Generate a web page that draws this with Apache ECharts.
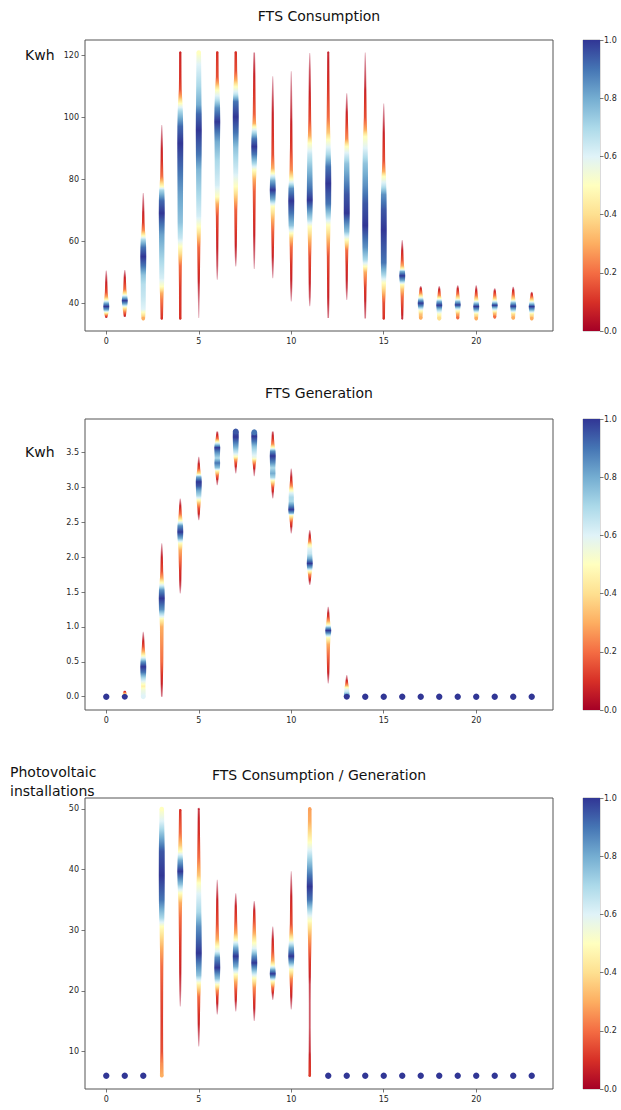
<!DOCTYPE html>
<html><head><meta charset="utf-8">
<script src="https://cdn.jsdelivr.net/npm/echarts@6/dist/echarts.min.js"></script>
<style>html,body{margin:0;padding:0;background:#fff}#c{width:621px;height:1110px}</style>
</head><body><div id="c"></div>
<script>
// ---------------- DATA ----------------
const hours = [0,1,2,3,4,5,6,7,8,9,10,11,12,13,14,15,16,17,18,19,20,21,22,23];
const xTicks = [0,5,10,15,20];
const consumptionTicks = [40,60,80,100,120];
const generationTicks = [0,0.5,1,1.5,2,2.5,3,3.5];
const ratioTicks = [10,20,30,40,50];
const colorbarTicks = [0,0.2,0.4,0.6,0.8,1];
const titles = ['FTS Consumption','FTS Generation','FTS Consumption / Generation'];
const unitLabels = ['Kwh','Kwh','Photovoltaic\ninstallations'];

// per hour: [value, normalised density] pairs
const consumptionKnots = [
 [[35.2,0.02],[36.0,0.2],[36.8,0.45],[37.8,0.8],[38.9,1],[40.0,0.8],[41.0,0.5],[42.0,0.3],[43.5,0.15],[46,0.08],[48.5,0.04],[50.5,0]],
 [[35.5,0.03],[37.0,0.2],[38.5,0.45],[39.7,0.8],[40.8,1],[41.9,0.75],[43.0,0.45],[44.5,0.2],[47,0.1],[49,0.05],[50.7,0]],
 [[35.0,0.3],[36.5,0.45],[38,0.6],[42,0.65],[46,0.68],[49,0.75],[52,0.9],[55,1.0],[58,0.9],[60.5,0.7],[62,0.45],[63.5,0.25],[66,0.12],[70,0.06],[73,0.03],[75.5,0]],
 [[35,0.1],[38,0.15],[41,0.22],[43.2,0.3],[45.3,0.5],[48,0.62],[55,0.72],[62,0.82],[66,0.92],[69,1],[73,0.92],[76.5,0.7],[77.6,0.5],[79.7,0.3],[81,0.2],[86,0.1],[92,0.05],[97.5,0]],
 [[35,0.1],[45,0.12],[52,0.2],[56,0.4],[58.2,0.5],[61,0.65],[66,0.75],[75,0.82],[84,0.92],[91.6,1],[97,0.92],[102,0.7],[104.4,0.5],[106.5,0.3],[109,0.15],[113,0.1],[120.9,0.08]],
 [[35.2,0],[40,0.02],[46,0.06],[52,0.12],[58,0.2],[61.5,0.35],[64.7,0.5],[68,0.62],[75,0.7],[83,0.78],[88,0.9],[95.8,1],[101,0.92],[104,0.8],[110,0.7],[117,0.6],[120.9,0.5]],
 [[47.5,0],[52,0.04],[60,0.08],[68,0.15],[72,0.3],[74.3,0.5],[78,0.62],[86,0.7],[92,0.8],[98.5,1],[103,0.85],[106,0.65],[108.7,0.5],[110.8,0.3],[113,0.15],[120.9,0.1]],
 [[51.8,0],[55,0.04],[62,0.1],[70,0.18],[73,0.3],[77.6,0.5],[82,0.62],[90,0.75],[95,0.9],[100.1,1],[105,0.9],[107.5,0.65],[109.8,0.5],[112,0.3],[115,0.15],[120.9,0.1]],
 [[51,0],[55,0.03],[62,0.07],[70,0.12],[76,0.18],[80,0.3],[82.9,0.5],[85,0.7],[88,0.9],[90.5,1],[93,0.9],[95.5,0.65],[96.8,0.5],[98,0.3],[101,0.18],[106,0.12],[112,0.08],[117,0.05],[120.9,0.02]],
 [[48,0],[52,0.04],[58,0.1],[63,0.18],[67,0.3],[71.2,0.5],[73.5,0.8],[76.5,1],[79.5,0.8],[81.9,0.5],[83.5,0.3],[88,0.15],[95,0.1],[105,0.05],[113.2,0]],
 [[40.5,0],[45,0.05],[52,0.1],[58,0.2],[61,0.35],[62.5,0.5],[65,0.75],[69,0.9],[73,1],[77,0.85],[79,0.6],[81,0.4],[83,0.25],[90,0.12],[100,0.06],[108,0.03],[114.8,0]],
 [[39,0],[42,0.04],[48,0.08],[55,0.15],[60,0.3],[64.7,0.5],[67,0.7],[71,0.9],[73.2,1],[77,0.9],[84,0.75],[88,0.65],[91.6,0.5],[94,0.3],[99,0.15],[108,0.07],[115,0.04],[120.7,0]],
 [[35.2,0.02],[40,0.06],[48,0.1],[55,0.15],[60,0.3],[65.2,0.5],[68,0.7],[72,0.9],[78.6,1],[84,0.9],[88,0.7],[92.7,0.5],[95,0.35],[100,0.2],[108,0.12],[115,0.08],[120.9,0.06]],
 [[41,0],[45,0.05],[52,0.1],[57,0.2],[60.4,0.5],[63,0.75],[69,1],[75,0.95],[80,0.85],[85,0.75],[88.5,0.6],[90.5,0.5],[93,0.25],[98,0.12],[103,0.05],[107.7,0]],
 [[35,0.02],[40,0.06],[45,0.12],[50,0.3],[51.8,0.5],[54,0.7],[58,0.85],[65,1],[72,0.95],[78,0.85],[85,0.75],[90,0.6],[93.7,0.5],[96,0.3],[100,0.15],[110,0.06],[120.9,0]],
 [[35,0.1],[40,0.15],[43,0.3],[46.5,0.5],[49,0.7],[53,0.9],[63.6,1],[70,0.95],[75,0.85],[78,0.65],[80.8,0.5],[82.5,0.3],[86,0.15],[95,0.07],[104.4,0]],
 [[35,0.05],[38,0.1],[42,0.2],[44.5,0.35],[46,0.5],[47.3,0.8],[48.8,1],[50.2,0.8],[51,0.5],[52,0.3],[54,0.15],[57,0.07],[60.4,0]],
 [[35.2,0.3],[36.5,0.35],[37.8,0.55],[39,0.85],[40,1],[41,0.8],[42,0.5],[43.2,0.25],[44.5,0.1],[45.5,0]],
 [[35,0.4],[36.5,0.5],[38,0.75],[39.3,1],[40.5,0.8],[41.5,0.5],[42.5,0.25],[44,0.1],[45.5,0]],
 [[35.2,0.2],[36.5,0.3],[38,0.6],[39.4,1],[40.6,0.75],[41.5,0.45],[43,0.2],[44.5,0.08],[45.8,0]],
 [[35,0.3],[36.5,0.45],[37.8,0.8],[38.9,1],[40,0.75],[41,0.45],[42.5,0.2],[44,0.08],[45.8,0]],
 [[35.5,0.2],[36.8,0.35],[38.2,0.7],[39.3,1],[40.3,0.7],[41.3,0.4],[42.5,0.2],[43.8,0.08],[44.8,0]],
 [[35.2,0.3],[36.5,0.4],[37.8,0.75],[39,1],[40.2,0.75],[41.3,0.4],[42.8,0.18],[44.2,0.07],[45.3,0]],
 [[35,0.3],[36.5,0.45],[37.8,0.8],[38.9,1],[40,0.7],[41,0.4],[42.3,0.15],[43.7,0]]
];

const generationKnots = [
 [[0,1]],
 [[0,1],[0.02,0.6],[0.04,0.4],[0.06,0.2],[0.09,0]],
 [[0,0.6],[0.05,0.58],[0.1,0.55],[0.15,0.45],[0.2,0.55],[0.27,0.7],[0.35,0.9],[0.43,1],[0.5,0.85],[0.56,0.6],[0.6,0.45],[0.65,0.3],[0.72,0.15],[0.8,0.07],[0.93,0]],
 [[0,0.02],[0.15,0.06],[0.3,0.1],[0.5,0.2],[0.75,0.25],[1.0,0.3],[1.1,0.45],[1.15,0.6],[1.25,0.85],[1.41,1],[1.53,0.85],[1.6,0.6],[1.65,0.45],[1.7,0.3],[1.8,0.15],[2.0,0.07],[2.2,0]],
 [[1.48,0],[1.6,0.05],[1.8,0.1],[1.95,0.2],[2.1,0.3],[2.2,0.5],[2.27,0.8],[2.36,1],[2.45,0.85],[2.5,0.6],[2.55,0.4],[2.62,0.2],[2.72,0.08],[2.84,0]],
 [[2.53,0],[2.6,0.05],[2.7,0.15],[2.78,0.35],[2.82,0.5],[2.88,0.7],[2.95,0.8],[3.02,0.95],[3.08,1],[3.15,0.8],[3.2,0.4],[3.27,0.15],[3.36,0.05],[3.44,0]],
 [[3.03,0],[3.1,0.05],[3.17,0.2],[3.23,0.45],[3.28,0.75],[3.35,0.9],[3.42,0.7],[3.5,0.85],[3.57,1],[3.62,0.7],[3.66,0.45],[3.7,0.2],[3.75,0.08],[3.8,0.03]],
 [[3.2,0],[3.28,0.05],[3.35,0.15],[3.4,0.3],[3.44,0.5],[3.5,0.65],[3.58,0.8],[3.65,0.9],[3.72,1],[3.8,0.95]],
 [[3.16,0],[3.25,0.05],[3.32,0.15],[3.38,0.35],[3.42,0.55],[3.5,0.65],[3.58,0.75],[3.66,0.9],[3.73,1],[3.79,0.9]],
 [[2.84,0],[2.92,0.05],[3.0,0.15],[3.06,0.35],[3.1,0.5],[3.14,0.7],[3.2,0.8],[3.28,0.7],[3.35,0.85],[3.45,1],[3.52,0.85],[3.57,0.5],[3.62,0.25],[3.7,0.1],[3.8,0.03]],
 [[2.34,0],[2.42,0.05],[2.5,0.15],[2.56,0.35],[2.6,0.5],[2.63,0.8],[2.68,1],[2.74,0.85],[2.8,0.7],[2.86,0.7],[2.92,0.6],[2.97,0.45],[3.02,0.25],[3.1,0.1],[3.18,0.05],[3.27,0]],
 [[1.6,0],[1.68,0.08],[1.75,0.25],[1.8,0.5],[1.85,0.8],[1.91,1],[1.98,0.8],[2.05,0.65],[2.12,0.6],[2.18,0.45],[2.22,0.25],[2.28,0.1],[2.39,0]],
 [[0.19,0],[0.3,0.05],[0.45,0.12],[0.6,0.2],[0.75,0.3],[0.85,0.5],[0.91,0.85],[0.95,1],[0.99,0.8],[1.03,0.5],[1.08,0.3],[1.15,0.12],[1.22,0.05],[1.29,0]],
 [[0,1],[0.03,0.85],[0.07,0.65],[0.1,0.6],[0.13,0.5],[0.16,0.3],[0.2,0.15],[0.25,0.05],[0.31,0]],
 [[0,1]],[[0,1]],[[0,1]],[[0,1]],[[0,1]],[[0,1]],[[0,1]],[[0,1]],[[0,1]],[[0,1]]
];

const ratioKnots = [
 [[6,1]],[[6,1]],[[6,1]],
 [[6,0.3],[8,0.25],[10,0.15],[15,0.12],[20,0.15],[24,0.2],[27,0.3],[29,0.4],[30.6,0.5],[32,0.7],[35,0.9],[39,1],[43,0.95],[46,0.75],[48,0.6],[50,0.5]],
 [[17.4,0],[20,0.04],[24,0.08],[28,0.12],[32,0.2],[34.5,0.3],[36.1,0.5],[37.5,0.75],[39.7,1],[41.5,0.8],[42.5,0.6],[43,0.5],[44,0.35],[46,0.2],[49.8,0.1]],
 [[10.8,0],[13,0.04],[16,0.1],[19,0.2],[21,0.45],[22.5,0.75],[26.2,1],[30.6,0.85],[33,0.7],[36,0.6],[37.8,0.5],[39,0.35],[42,0.2],[46,0.1],[50,0.05]],
 [[16.1,0],[17.5,0.05],[19,0.12],[20,0.25],[21,0.5],[22,0.75],[23.8,1],[25.5,0.85],[26.5,0.6],[27.3,0.5],[28.5,0.3],[31,0.15],[35,0.07],[38.3,0]],
 [[16.6,0],[18,0.05],[20,0.15],[21.5,0.3],[22.7,0.5],[24,0.8],[25.7,1],[27.1,0.8],[28,0.6],[28.4,0.5],[29.5,0.3],[31.5,0.15],[34,0.07],[36.1,0]],
 [[15,0],[16.5,0.05],[18.5,0.12],[20.5,0.25],[22.1,0.5],[23.5,0.8],[24.6,1],[25.7,0.85],[27,0.6],[27.9,0.5],[29.5,0.3],[31.5,0.15],[33.5,0.06],[34.8,0]],
 [[18.5,0],[19.5,0.06],[20.5,0.2],[21.6,0.5],[22.2,0.8],[22.8,1],[23.5,0.8],[24.2,0.5],[25,0.3],[26.5,0.15],[28.5,0.07],[30.6,0]],
 [[16.9,0],[18.5,0.05],[20.5,0.12],[22,0.25],[23.5,0.5],[24.6,0.8],[25.7,1],[27.1,0.8],[28.4,0.5],[29.5,0.3],[31,0.15],[35,0.08],[39.7,0]],
 [[6,0.12],[8,0.1],[10,0.06],[14,0.04],[18,0.04],[21,0.05],[23,0.08],[25,0.12],[27,0.2],[29,0.3],[31,0.45],[32,0.55],[35,0.9],[37.2,1],[39,0.9],[42,0.7],[44.5,0.5],[46,0.4],[48,0.3],[50,0.28]],
 [[6,1]],[[6,1]],[[6,1]],[[6,1]],[[6,1]],[[6,1]],[[6,1]],[[6,1]],[[6,1]],[[6,1]],[[6,1]],[[6,1]]
];

// ---------------- RENDERING ----------------
const FONT = 'DejaVu Sans';
const RdYlBu = ['#a50026','#d73027','#f46d43','#fdae61','#fee090','#ffffbf','#e0f3f8','#abd9e9','#74add1','#4575b4','#313695'];
const RGB = RdYlBu.map(c => [parseInt(c.slice(1,3),16),parseInt(c.slice(3,5),16),parseInt(c.slice(5,7),16)]);
function cmap(d, a){
  d = Math.max(0, Math.min(1, d));
  const t = d*10, i = Math.min(9, Math.floor(t)), f = t - i;
  const c0 = RGB[i], c1 = RGB[i+1];
  const r = c0.map((v,k) => Math.round(v + (c1[k]-v)*f));
  return 'rgba(' + r[0] + ',' + r[1] + ',' + r[2] + ',' + (a == null ? 1 : a) + ')';
}
const DOT_R = 3.2, SUB = 8;
const widthOf = d => 0.8 + 5.2 * Math.sqrt(Math.max(0, d));
const alphaOf = d => Math.min(1, 0.3 + d*10);

function makeRender(knotsList){
  return function(params, api){
    const ks = knotsList[params.dataIndex];
    const h = api.value(0);
    if (ks.length === 1){
      const p = api.coord([h, ks[0][0]]);
      return {type:'circle', shape:{cx:p[0], cy:p[1], r:DOT_R}, style:{fill:cmap(ks[0][1])}};
    }
    const samples = [];
    for (let i = 0; i < ks.length-1; i++){
      for (let j = 0; j < SUB; j++){
        const f = j/SUB;
        samples.push([ks[i][0] + (ks[i+1][0]-ks[i][0])*f, ks[i][1] + (ks[i+1][1]-ks[i][1])*f]);
      }
    }
    samples.push(ks[ks.length-1]);
    const pts = samples.map(s => { const p = api.coord([h, s[0]]); return [p[0], p[1], s[1]]; });
    const yB = pts[0][1], yT = pts[pts.length-1][1];
    const left = [], right = [], stops = [];
    pts.forEach(p => {
      const w = widthOf(p[2]);
      left.push([p[0]-w/2, p[1]]);
      right.push([p[0]+w/2, p[1]]);
      stops.push({offset: Math.max(0, Math.min(1, (yB-p[1])/(yB-yT))), color: cmap(p[2], alphaOf(p[2]))});
    });
    const poly = left.concat(right.reverse());
    const grad = {type:'linear', x:0, y:yB, x2:0, y2:yT, global:true, colorStops:stops};
    const children = [{type:'polygon', shape:{points:poly}, style:{fill:grad}}];
    [pts[0], pts[pts.length-1]].forEach(p => {
      const w = widthOf(p[2]);
      if (w > 1.8) children.push({type:'circle', shape:{cx:p[0], cy:p[1], r:w/2}, style:{fill:cmap(p[2], alphaOf(p[2]))}});
    });
    return {type:'group', children};
  };
}

function colorbarRender(params, api){
  const p0 = api.coord([0, 0]), p1 = api.coord([1, 1]);
  const stops = RdYlBu.map((c,i) => ({offset: 1 - i/10, color: c})).reverse();
  return {type:'rect', shape:{x:p0[0], y:p1[1], width:p1[0]-p0[0], height:p0[1]-p1[1]},
    style:{fill:{type:'linear', x:0, y:0, x2:0, y2:1, colorStops: stops}}};
}

const panels = [
  {knots: consumptionKnots, ticks: consumptionTicks, min: 31.0, max: 124.9, top: 40, fmt: v => String(v)},
  {knots: generationKnots, ticks: generationTicks, min: -0.19, max: 3.98, top: 419, fmt: v => v.toFixed(1)},
  {knots: ratioKnots, ticks: ratioTicks, min: 3.8, max: 51.8, top: 798, fmt: v => String(v)}
];
const H = 291;
const AX = '#555', LBL = '#262626';

const grid = [], xAxis = [], yAxis = [], series = [];
panels.forEach((pn, i) => {
  grid.push({left:85, width:468, top:pn.top, height:H, show:true, borderColor:AX, borderWidth:1, containLabel:false});
  grid.push({left:583, width:17, top:pn.top, height:H, show:true, borderColor:'#888', borderWidth:0.6, containLabel:false});
  xAxis.push({type:'value', gridIndex:2*i, min:-1.15, max:24.15, position:'bottom',
    axisLine:{show:false, onZero:false}, splitLine:{show:false},
    axisTick:{show:true, customValues:xTicks, length:3.5, lineStyle:{color:AX, width:0.8}},
    axisLabel:{customValues:xTicks, fontSize:8, color:LBL, margin:6, fontFamily:FONT}});
  yAxis.push({type:'value', gridIndex:2*i, min:pn.min, max:pn.max, position:'left',
    axisLine:{show:false, onZero:false}, splitLine:{show:false},
    axisTick:{show:true, customValues:pn.ticks, length:3.5, lineStyle:{color:AX, width:0.8}},
    axisLabel:{customValues:pn.ticks, fontSize:8, color:LBL, margin:6, fontFamily:FONT, formatter:pn.fmt}});
  xAxis.push({type:'value', gridIndex:2*i+1, min:0, max:1, show:false, axisLine:{onZero:false}});
  yAxis.push({type:'value', gridIndex:2*i+1, min:0, max:1, interval:0.2, position:'right',
    axisLine:{show:false, onZero:false}, splitLine:{show:false},
    axisTick:{show:true, length:3.5, lineStyle:{color:AX, width:0.8}},
    axisLabel:{fontSize:8, color:LBL, margin:4, fontFamily:FONT, formatter: v => v.toFixed(1)}});
  series.push({type:'custom', xAxisIndex:2*i, yAxisIndex:2*i, renderItem: makeRender(pn.knots),
    data: hours.map(h => [h]), clip:true, silent:true, animation:false});
  series.push({type:'custom', xAxisIndex:2*i+1, yAxisIndex:2*i+1, renderItem: colorbarRender,
    data: [[0]], silent:true, animation:false, z:1});
});

const txt = (text, x, y, size, align) => ({type:'text', x, y, silent:true,
  style:{text, fontSize:size, fontFamily:FONT, fill:'#111', textAlign:align, align:align, textVerticalAlign:'middle', verticalAlign:'middle', lineHeight:19}});
const graphic = [
  txt(titles[0], 319, 16, 14, 'center'),
  txt(titles[1], 319, 393, 14, 'center'),
  txt(titles[2], 319, 775, 14, 'center'),
  txt(unitLabels[0], 25, 55, 14, 'left'),
  txt(unitLabels[1], 25, 452, 14, 'left'),
  txt(unitLabels[2], 10, 781, 14, 'left')
];

const chart = echarts.init(document.getElementById('c'), null, {renderer:'svg', width:621, height:1110});
chart.setOption({animation:false, backgroundColor:'#fff', grid, xAxis, yAxis, series, graphic});
</script>
</body></html>
